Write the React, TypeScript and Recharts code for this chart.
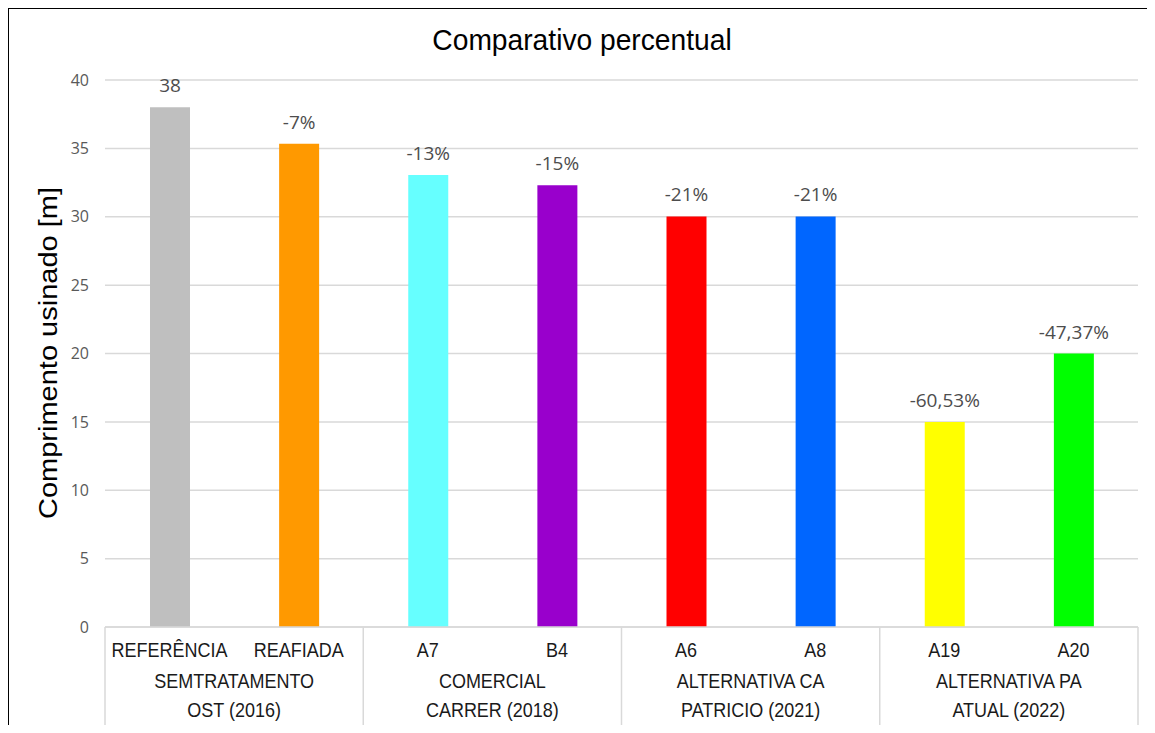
import { BarChart, Bar, XAxis, YAxis, CartesianGrid, Cell, LabelList } from 'recharts';

const tools = ['REFERÊNCIA', 'REAFIADA', 'A7', 'B4', 'A6', 'A8', 'A19', 'A20'];
const lengths = [38, 35.34, 33.06, 32.3, 30.02, 30.02, 15, 20];
const changeLabels = ['38', '-7%', '-13%', '-15%', '-21%', '-21%', '-60,53%', '-47,37%'];
const barColors = ['#BFBFBF', '#FF9900', '#66FFFF', '#9900CC', '#FF0000', '#0066FF', '#FFFF00', '#00FF00'];
const groupLines = [
  ['SEMTRATAMENTO', 'OST (2016)'],
  ['COMERCIAL', 'CARRER (2018)'],
  ['ALTERNATIVA CA', 'PATRICIO (2021)'],
  ['ALTERNATIVA PA', 'ATUAL (2022)'],
];
const yTicks = [0, 5, 10, 15, 20, 25, 30, 35, 40];

const data = tools.map((name, i) => ({ name, value: lengths[i], label: changeLabels[i] }));

const GRID = '#D9D9D9';
const ARIAL = '"Liberation Sans", Arial, sans-serif';
const CALIBRI = '"Open Sans", "DejaVu Sans", sans-serif';

// two-level category axis drawn as a table: tool name, then the group name under each pair
const TableTick = (props: any) => {
  const { x, y, payload, index } = props;
  const half = payload?.offset ?? 64.5;
  const isFirstOfPair = index % 2 === 0;
  const isLast = index === tools.length - 1;
  const group = groupLines[Math.floor(index / 2)];
  const textProps = { fontFamily: ARIAL, fontSize: 20, fill: '#1a1a1a', textAnchor: 'middle' as const };
  return (
    <g>
      <text {...textProps} transform={`translate(${x},${y + 30}) scale(0.9,1)`}>
        {payload.value}
      </text>
      {isFirstOfPair && (
        <>
          <line x1={x - half} x2={x - half} y1={y} y2={y + 110} stroke={GRID} strokeWidth={1.5} />
          <text {...textProps} transform={`translate(${x + half},${y + 61}) scale(0.9,1)`}>
            {group[0]}
          </text>
          <text {...textProps} transform={`translate(${x + half},${y + 90}) scale(0.9,1)`}>
            {group[1]}
          </text>
        </>
      )}
      {isLast && <line x1={x + half} x2={x + half} y1={y} y2={y + 110} stroke={GRID} strokeWidth={1.5} />}
    </g>
  );
};

export default function App() {
  return (
    <div style={{ position: 'relative', width: 1155, height: 733, margin: -8, background: '#fff', overflow: 'hidden' }}>
      {/* frame */}
      <div style={{ position: 'absolute', left: 6, top: 5, right: 0, height: 4, background: '#000' }} />
      <div style={{ position: 'absolute', left: 6, top: 5, bottom: 0, width: 3, background: '#000' }} />

      <BarChart
        width={1155}
        height={733}
        data={data}
        margin={{ top: 80, right: 17, bottom: 0, left: 0 }}
        barCategoryGap="0%"
      >
        <CartesianGrid vertical={false} stroke={GRID} strokeWidth={1.5} />
        <XAxis
          dataKey="name"
          height={106}
          interval={0}
          tickLine={false}
          tickSize={0}
          tickMargin={0}
          axisLine={{ stroke: GRID, strokeWidth: 1.5 }}
          tick={<TableTick />}
        />
        <YAxis
          width={105}
          domain={[0, 40]}
          ticks={yTicks}
          interval={0}
          tickLine={false}
          axisLine={false}
          tickSize={0}
          tickMargin={16}
          tick={{ fill: '#595959', fontSize: 16, fontFamily: CALIBRI }}
        />
        <Bar dataKey="value" barSize={40} isAnimationActive={false}>
          {data.map((_d, i) => (
            <Cell key={`c-${i}`} fill={barColors[i]} />
          ))}
          <LabelList
            dataKey="label"
            position="top"
            offset={15}
            fill="#4d4d4d"
            fontSize={19}
            fontFamily={CALIBRI}
          />
        </Bar>
      </BarChart>

      <svg width={1155} height={733} style={{ position: 'absolute', left: 0, top: 0, pointerEvents: 'none' }}>
        <text
          fontFamily={ARIAL}
          fontSize={30}
          fill="#000"
          textAnchor="middle"
          transform="translate(582,50) scale(0.94,1)"
        >
          Comparativo percentual
        </text>
        <text
          fontFamily={ARIAL}
          fontSize={29}
          fill="#000"
          textAnchor="middle"
          transform="translate(57,353) rotate(-90) scale(1,0.9)"
        >
          Comprimento usinado [m]
        </text>
      </svg>
    </div>
  );
}
